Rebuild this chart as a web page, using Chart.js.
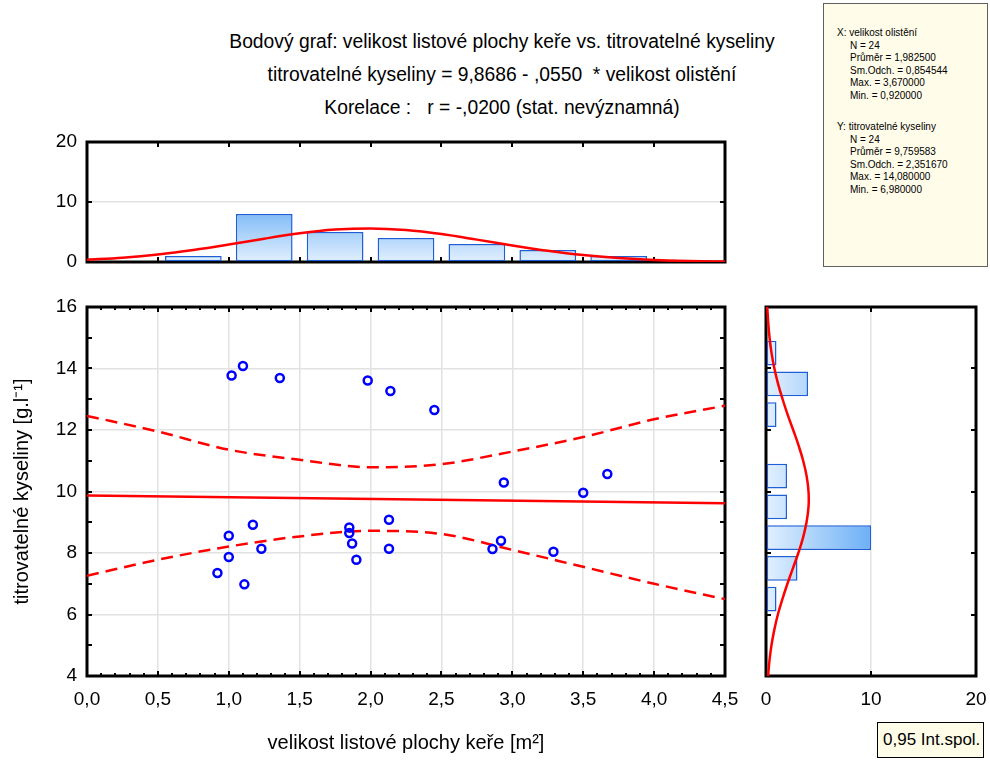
<!DOCTYPE html>
<html>
<head>
<meta charset="utf-8">
<script src="https://cdn.jsdelivr.net/npm/chart.js@4.4.1/dist/chart.umd.min.js"></script>
<style>
  body { margin: 0; background: #fff; font-family: "Liberation Sans", Arial, sans-serif; color: #000; }
  #wrap { position: relative; width: 990px; height: 760px; overflow: hidden; }
  canvas { position: absolute; }
  .tline { position: absolute; left: 0; width: 1004px; text-align: center; font-size: 19.3px; white-space: pre; line-height: 22px; }
  #stats { position: absolute; left: 823px; top: 3px; width: 165px; height: 264px; background: #fffcea; border: 1px solid #606060; box-sizing: border-box; font-size: 10px; line-height: 12.5px; }
  #stats .blk { position: absolute; left: 13px; }
  #stats .ind { padding-left: 13px; }
  #legend { position: absolute; left: 877px; top: 722px; width: 107px; height: 36px; box-sizing: border-box; border: 1.5px solid #000; background: #fffde8; font-size: 17px; line-height: 33px; padding-left: 5px; }
</style>
</head>
<body>
<div id="wrap">
  <div class="tline" style="top:31px">Bodový graf: velikost listové plochy keře vs. titrovatelné kyseliny</div>
  <div class="tline" style="top:64px">titrovatelné kyseliny = 9,8686 - ,0550  * velikost olistění</div>
  <div class="tline" style="top:97px">Korelace :   r = -,0200 (stat. nevýznamná)</div>

  <div id="stats">
    <div class="blk" style="top:23px">
      <div>X:  velikost olistění</div>
      <div class="ind">N = 24</div>
      <div class="ind">Průměr = 1,982500</div>
      <div class="ind">Sm.Odch. = 0,854544</div>
      <div class="ind">Max. = 3,670000</div>
      <div class="ind">Min. = 0,920000</div>
    </div>
    <div class="blk" style="top:117px">
      <div>Y:  titrovatelné kyseliny</div>
      <div class="ind">N = 24</div>
      <div class="ind">Průměr = 9,759583</div>
      <div class="ind">Sm.Odch. = 2,351670</div>
      <div class="ind">Max. = 14,080000</div>
      <div class="ind">Min. = 6,980000</div>
    </div>
  </div>

  <canvas id="topHist" width="740" height="156" style="left:0;top:124px"></canvas>
  <canvas id="scatter" width="740" height="470" style="left:0;top:290px"></canvas>
  <canvas id="sideHist" width="250" height="470" style="left:740px;top:290px"></canvas>

  <div id="legend">0,95 Int.spol.</div>
</div>

<script>
// hodnoty
const leafArea = [1.02, 1.10, 1.36, 1.98, 2.14, 1.00, 1.17, 1.00, 1.23, 0.92, 1.11, 1.85,
                  1.85, 1.87, 1.90, 2.13, 2.13, 2.45, 2.94, 3.50, 3.67, 2.86, 2.92, 3.29];
const acidity  = [13.77, 14.08, 13.69, 13.61, 13.27, 8.56, 8.92, 7.87, 8.14, 7.35, 6.98, 8.83,
                  8.65, 8.31, 7.78, 9.08, 8.14, 12.65, 10.29, 9.96, 10.57, 8.13, 8.40, 8.04];

// regresní přímka a 0,95 interval spolehlivosti
const fitX = [0, 4.5];
const fitY = [9.87, 9.62];
const bandX     = [0, 0.5, 1.0, 1.5, 2.0, 2.5, 3.0, 3.5, 4.0, 4.5];
const bandUpper = [12.46, 11.95, 11.36, 11.03, 10.79, 10.89, 11.30, 11.77, 12.35, 12.79];
const bandLower = [7.26, 7.78, 8.21, 8.54, 8.72, 8.62, 8.10, 7.55, 7.00, 6.50];

// histogram velikosti olistění (horní)
const leafBins   = [0.75, 1.25, 1.75, 2.25, 2.75, 3.25, 3.75];
const leafCounts = [1, 8, 5, 4, 3, 2, 1];
const leafCurveX = [0, 0.25, 0.5, 0.75, 1.0, 1.25, 1.5, 1.75, 2.0, 2.25, 2.5, 2.75, 3.0, 3.25, 3.5, 3.75, 4.0, 4.25, 4.5];
const leafCurveY = [0.38, 0.72, 1.25, 1.99, 2.90, 3.89, 4.78, 5.40, 5.60, 5.33, 4.66, 3.73, 2.75, 1.86, 1.15, 0.66, 0.34, 0.17, 0.07];

// histogram kyselin (pravý)
const acidBins   = [6.5, 7.5, 8.5, 9.5, 10.5, 12.5, 13.5, 14.5];
const acidCounts = [1, 3, 10, 2, 2, 1, 4, 1];
const acidCurveLevel = [4, 4.5, 5, 5.5, 6, 6.5, 7, 7.5, 8, 8.5, 9, 9.5, 10, 10.5, 11, 11.5, 12, 12.5, 13, 13.5, 14, 14.5, 15, 15.5, 16];
const acidCurveCount = [0.20, 0.33, 0.52, 0.79, 1.13, 1.56, 2.04, 2.56, 3.08, 3.53, 3.86, 4.05, 4.05, 3.87, 3.54, 3.10, 2.59, 2.06, 1.58, 1.15, 0.80, 0.53, 0.34, 0.21, 0.12];

const FONT = '"Liberation Sans", Arial, sans-serif';
const GRID = '#e2e2e2';
const RED = '#ff0000';
const comma = (v, d) => Number(v).toFixed(d).replace('.', ',');
const pts = (xs, ys) => xs.map((x, i) => ({ x, y: ys[i] }));

// pevné rozměry os, bez automatického odsazení kvůli popiskům
const fixW = w => s => { s.width = w; s.paddingTop = 0; s.paddingBottom = 0; };
const fixH = h => s => { s.height = h; s.paddingLeft = 0; s.paddingRight = 0; };

// rámeček + vnitřní značky na všech čtyřech stranách
const frameTicks = {
  id: 'frameTicks',
  beforeDatasetsDraw(chart, args, opts) {
    const { ctx, chartArea: a, scales } = chart;
    ctx.save();
    ctx.strokeStyle = '#000';
    ctx.lineWidth = 2;
    (opts.x || []).forEach(t => {
      const s = scales.x, n = Math.round((s.max - s.min) / t.step);
      for (let i = 1; i < n; i++) {
        const p = Math.round(s.getPixelForValue(s.min + i * t.step));
        ctx.beginPath();
        ctx.moveTo(p, a.top); ctx.lineTo(p, a.top + t.len);
        ctx.moveTo(p, a.bottom); ctx.lineTo(p, a.bottom - t.len);
        ctx.stroke();
      }
    });
    (opts.y || []).forEach(t => {
      const s = scales.y, n = Math.round((s.max - s.min) / t.step);
      for (let i = 1; i < n; i++) {
        const p = Math.round(s.getPixelForValue(s.min + i * t.step));
        ctx.beginPath();
        ctx.moveTo(a.left, p); ctx.lineTo(a.left + t.len, p);
        ctx.moveTo(a.right, p); ctx.lineTo(a.right - t.len, p);
        ctx.stroke();
      }
    });
    ctx.lineWidth = 3;
    ctx.strokeRect(a.left, a.top, a.right - a.left, a.bottom - a.top);
    ctx.restore();
  }
};

// výplň sloupců: světlá u nuly, tmavší směrem k 10
function barFill(axis) {
  return (c) => {
    const chart = c.chart;
    if (!chart.chartArea) return '#a8d0f8';
    const s = chart.scales[axis];
    const p0 = s.getPixelForValue(0), p1 = s.getPixelForValue(10);
    const g = axis === 'y'
      ? chart.ctx.createLinearGradient(0, p0, 0, p1)
      : chart.ctx.createLinearGradient(p0, 0, p1, 0);
    g.addColorStop(0, '#e2f0fe');
    g.addColorStop(1, '#6cb0f6');
    return g;
  };
}

const tickFont = { family: FONT, size: 19 };
const common = {
  responsive: false,
  animation: false,
  devicePixelRatio: 1,
};

new Chart(document.getElementById('topHist'), {
  type: 'bar',
  plugins: [frameTicks],
  data: {
    datasets: [
      { type: 'line', data: pts(leafCurveX, leafCurveY), borderColor: RED, borderWidth: 2.5,
        pointRadius: 0, cubicInterpolationMode: 'monotone' },
      { type: 'bar', data: pts(leafBins, leafCounts), backgroundColor: barFill('y'),
        borderColor: '#1f5fd6', borderWidth: 1.5, borderSkipped: false,
        barPercentage: 0.8, categoryPercentage: 1.0 }
    ]
  },
  options: {
    ...common,
    layout: { padding: { left: 0, right: 15, top: 18, bottom: 18 } },
    plugins: { legend: { display: false }, tooltip: { enabled: false },
      frameTicks: { x: [{ step: 0.5, len: 5 }], y: [{ step: 10, len: 5 }] } },
    scales: {
      x: { type: 'linear', min: 0, max: 4.5, offset: false, display: false, ticks: { stepSize: 0.5 } },
      y: { type: 'linear', min: 0, max: 20,
        ticks: { stepSize: 10, color: '#000', font: tickFont, padding: 10 },
        grid: { color: GRID, lineWidth: 1.5, drawTicks: false },
        border: { display: false },
        afterFit: fixW(87) }
    }
  }
});

new Chart(document.getElementById('scatter'), {
  type: 'scatter',
  plugins: [frameTicks],
  data: {
    datasets: [
      { data: pts(leafArea, acidity), pointRadius: 4, borderWidth: 2.5,
        borderColor: '#0000ff', backgroundColor: 'rgba(0,0,0,0)' },
      { type: 'line', data: pts(fitX, fitY), borderColor: RED, borderWidth: 2.5, pointRadius: 0 },
      { type: 'line', data: pts(bandX, bandUpper), borderColor: RED, borderWidth: 2.5, pointRadius: 0,
        borderDash: [12, 7], cubicInterpolationMode: 'monotone' },
      { type: 'line', data: pts(bandX, bandLower), borderColor: RED, borderWidth: 2.5, pointRadius: 0,
        borderDash: [12, 7], cubicInterpolationMode: 'monotone' }
    ]
  },
  options: {
    ...common,
    layout: { padding: { left: 0, right: 15, top: 17, bottom: 0 } },
    plugins: { legend: { display: false }, tooltip: { enabled: false },
      frameTicks: { x: [{ step: 0.1, len: 3 }, { step: 0.5, len: 5 }], y: [{ step: 1, len: 5 }] } },
    scales: {
      x: { type: 'linear', min: 0, max: 4.5,
        ticks: { stepSize: 0.5, color: '#000', font: tickFont, padding: 12, maxRotation: 0,
          callback: v => comma(v, 1) },
        grid: { color: GRID, lineWidth: 1.5, drawTicks: false },
        border: { display: false },
        title: { display: true, text: 'velikost listové plochy keře [m²]', color: '#000',
          font: { family: FONT, size: 20 }, padding: { top: 0, bottom: 5 } },
        afterFit: fixH(84) },
      y: { type: 'linear', min: 4, max: 16,
        ticks: { stepSize: 2, color: '#000', font: tickFont, padding: 10 },
        grid: { color: GRID, lineWidth: 1.5, drawTicks: false },
        border: { display: false },
        title: { display: true, text: 'titrovatelné kyseliny [g.l⁻¹]', color: '#000',
          font: { family: FONT, size: 20 }, padding: { top: 10, bottom: 0 } },
        afterFit: fixW(87) }
    }
  }
});

new Chart(document.getElementById('sideHist'), {
  type: 'bar',
  plugins: [frameTicks],
  data: {
    datasets: [
      { type: 'line', data: pts(acidCurveCount, acidCurveLevel), borderColor: RED, borderWidth: 2.5,
        pointRadius: 0, tension: 0.4 },
      { type: 'bar', data: acidBins.map((y, i) => ({ x: acidCounts[i], y })), backgroundColor: barFill('x'),
        borderColor: '#1f5fd6', borderWidth: 1.5, borderSkipped: false,
        barPercentage: 0.81, categoryPercentage: 1.0 }
    ]
  },
  options: {
    ...common,
    indexAxis: 'y',
    layout: { padding: { left: 26, right: 14, top: 17, bottom: 0 } },
    plugins: { legend: { display: false }, tooltip: { enabled: false },
      frameTicks: { x: [{ step: 10, len: 5 }], y: [{ step: 2, len: 5 }] } },
    scales: {
      y: { type: 'linear', min: 4, max: 16, offset: false, display: false, ticks: { stepSize: 1 } },
      x: { type: 'linear', min: 0, max: 20,
        ticks: { stepSize: 10, color: '#000', font: tickFont, padding: 12 },
        grid: { color: GRID, lineWidth: 1.5, drawTicks: false },
        border: { display: false },
        afterFit: fixH(84) }
    }
  }
});
</script>
</body>
</html>
